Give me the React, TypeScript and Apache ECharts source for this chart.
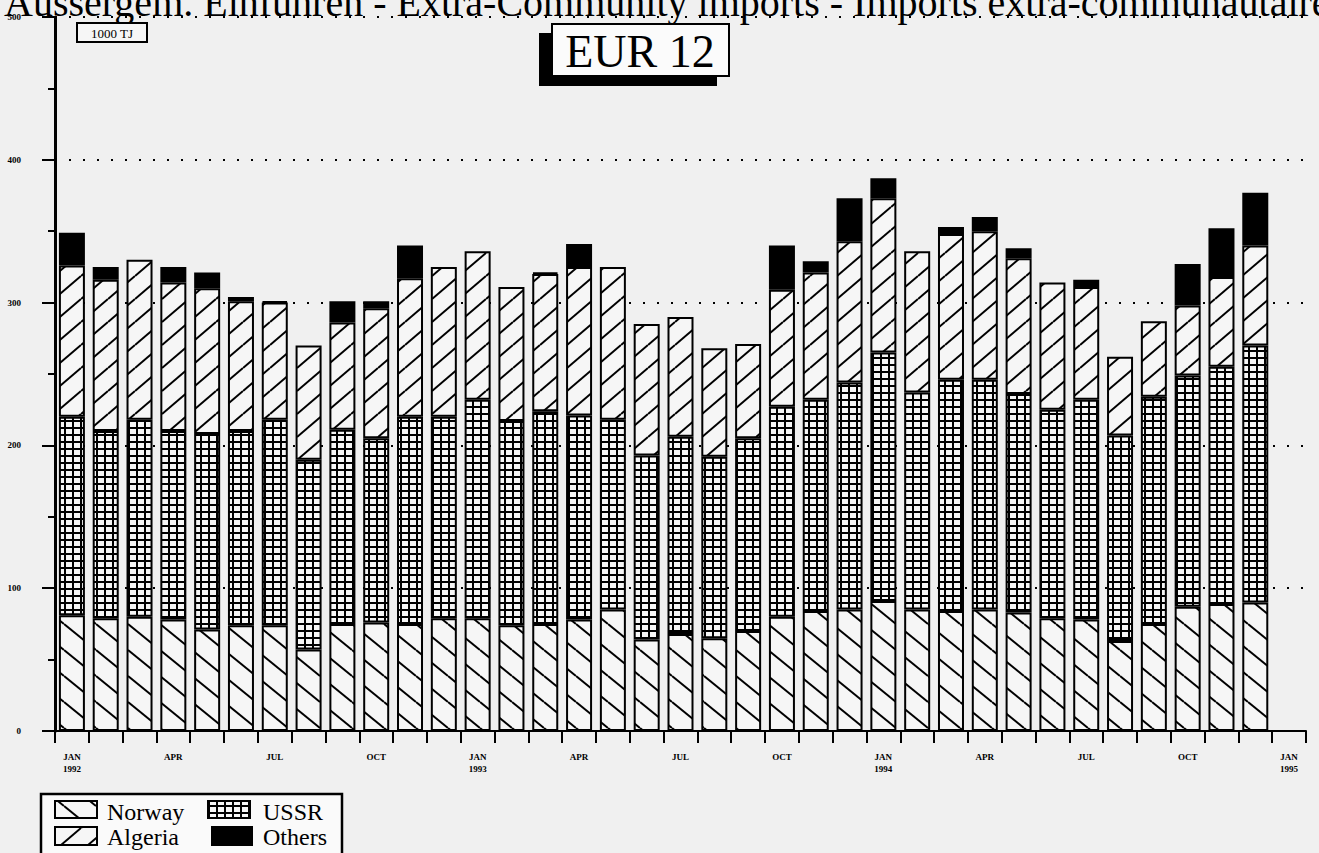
import React, { useEffect, useRef } from 'react';
import * as echarts from 'echarts';

const categories: string[] = [
  'JAN\n1992', 'FEB', 'MAR', 'APR', 'MAY', 'JUN', 'JUL', 'AUG', 'SEP', 'OCT', 'NOV', 'DEC',
  'JAN\n1993', 'FEB', 'MAR', 'APR', 'MAY', 'JUN', 'JUL', 'AUG', 'SEP', 'OCT', 'NOV', 'DEC',
  'JAN\n1994', 'FEB', 'MAR', 'APR', 'MAY', 'JUN', 'JUL', 'AUG', 'SEP', 'OCT', 'NOV', 'DEC',
  'JAN\n1995',
];

const norway: number[] = [
  81, 79, 80, 78, 71, 74, 74, 57, 75, 76, 75, 79,
  79, 74, 75, 78, 85, 64, 68, 65, 70, 80, 84, 85,
  91, 85, 84, 85, 83, 79, 78, 63, 75, 87, 89, 90,
];
const ussr: number[] = [
  139, 131, 138, 132, 137, 136, 144, 133, 136, 129, 145, 141,
  153, 143, 149, 143, 133, 129, 138, 127, 135, 147, 148, 159,
  174, 152, 162, 161, 153, 146, 154, 144, 159, 162, 166, 180,
];
const algeria: number[] = [
  106, 106, 112, 104, 102, 91, 82, 80, 75, 91, 97, 105,
  104, 94, 96, 104, 107, 92, 84, 76, 66, 82, 89, 99,
  108, 99, 102, 104, 95, 89, 79, 55, 53, 49, 63, 70,
];
const others: number[] = [
  23, 9, 0, 11, 11, 3, 1, 0, 15, 5, 23, 0,
  0, 0, 1, 16, 0, 0, 0, 0, 0, 31, 8, 30,
  14, 0, 5, 10, 7, 0, 5, 0, 0, 29, 34, 37,
];

const yTicks = [0, 100, 200, 300, 400, 500];

const HATCH_BG = '#f6f6f6';

function tile(kind: string): any {
  const c = document.createElement('canvas');
  let w = 8, h = 7;
  if (kind === 'norway') { w = 32; h = 26; }
  if (kind === 'algeria') { w = 27; h = 23; }
  c.width = w; c.height = h;
  const ctx = c.getContext('2d')!;
  ctx.fillStyle = HATCH_BG;
  ctx.fillRect(0, 0, w, h);
  ctx.strokeStyle = '#000';
  ctx.fillStyle = '#000';
  ctx.lineWidth = 2;
  if (kind === 'norway') {
    for (let n = -1; n <= 1; n++) {
      ctx.beginPath();
      ctx.moveTo(0, n * h);
      ctx.lineTo(w, h + n * h);
      ctx.stroke();
    }
  } else if (kind === 'algeria') {
    for (let n = -1; n <= 1; n++) {
      ctx.beginPath();
      ctx.moveTo(0, h + n * h);
      ctx.lineTo(w, n * h);
      ctx.stroke();
    }
  } else {
    ctx.fillRect(0, 0, 2, h);
    ctx.fillRect(0, 0, w, 2);
  }
  return { image: c, repeat: 'repeat' };
}

export default function App() {
  const ref = useRef<HTMLDivElement>(null);
  useEffect(() => {
    if (!ref.current) return;
    const chart = echarts.init(ref.current, undefined, { renderer: 'svg' });
    const pNorway = tile('norway');
    const pAlgeria = tile('algeria');
    const pUssr = tile('ussr');
    const nz = (arr: number[]) => arr.map((v) => (v === 0 ? null : v));
    const serif = "'Liberation Serif', 'DejaVu Serif', serif";
    const barBase = {
      type: 'bar',
      stack: 'total',
      barWidth: 26,
      itemStyle: { borderColor: '#000', borderWidth: 2 },
    };
    const legendItems = [
      { x: 55, y: 801, w: 42, h: 17, fill: pNorway, label: 'Norway', tx: 107, ty: 812 },
      { x: 208, y: 801, w: 42, h: 17, fill: pUssr, label: 'USSR', tx: 263, ty: 812 },
      { x: 55, y: 827, w: 42, h: 18, fill: pAlgeria, label: 'Algeria', tx: 107, ty: 837 },
      { x: 212, y: 827, w: 40, h: 18, fill: '#000', label: 'Others', tx: 263, ty: 837 },
    ];
    const graphics: any[] = [
      {
        type: 'text', x: 4, y: 2, z: 10,
        style: {
          text: 'Aussergem. Einfuhren - Extra-Community imports - Imports extra-communautaires',
          font: `40px ${serif}`, fill: '#000', verticalAlign: 'middle', textVerticalAlign: 'middle',
        },
      },
      {
        type: 'rect', z: 10, shape: { x: 77, y: 23, width: 70, height: 19 },
        style: { fill: '#f6f6f6', stroke: '#000', lineWidth: 2 },
      },
      {
        type: 'text', z: 11, x: 112, y: 33,
        style: { text: '1000 TJ', font: `13px ${serif}`, fill: '#000', align: 'center', textAlign: 'center', verticalAlign: 'middle', textVerticalAlign: 'middle' },
      },
      {
        type: 'rect', z: 10, shape: { x: 539, y: 33, width: 178, height: 53 },
        style: { fill: '#000' },
      },
      {
        type: 'rect', z: 11, shape: { x: 552, y: 24, width: 177, height: 52 },
        style: { fill: '#fbfbfb', stroke: '#000', lineWidth: 2 },
      },
      {
        type: 'text', z: 12, x: 640, y: 51,
        style: { text: 'EUR 12', font: `46px ${serif}`, fill: '#000', align: 'center', textAlign: 'center', verticalAlign: 'middle', textVerticalAlign: 'middle' },
      },
      {
        type: 'rect', z: 10, shape: { x: 41, y: 794, width: 301, height: 80 },
        style: { fill: '#fafafa', stroke: '#000', lineWidth: 2.5 },
      },
    ];
    legendItems.forEach((it) => {
      graphics.push({
        type: 'rect', z: 11, shape: { x: it.x, y: it.y, width: it.w, height: it.h },
        style: { fill: it.fill, stroke: '#000', lineWidth: 2 },
      });
      graphics.push({
        type: 'text', z: 11, x: it.tx, y: it.ty,
        style: { text: it.label, font: `24px ${serif}`, fill: '#000', verticalAlign: 'middle', textVerticalAlign: 'middle' },
      });
    });

    chart.setOption({
      animation: false,
      backgroundColor: '#f0f0f0',
      grid: { left: 55, right: 13, top: 17, bottom: 122, containLabel: false },
      xAxis: {
        type: 'category',
        data: categories,
        boundaryGap: true,
        axisLine: { show: true, lineStyle: { color: '#000', width: 2 } },
        axisTick: { show: true, length: 12, interval: 0, lineStyle: { color: '#000', width: 2 } },
        axisLabel: {
          interval: 2, margin: 20, fontSize: 9, fontWeight: 'bold', lineHeight: 12,
          fontFamily: serif, color: '#000',
        },
        splitLine: { show: false },
      },
      yAxis: {
        type: 'value',
        min: yTicks[0],
        max: yTicks[yTicks.length - 1],
        interval: 100,
        axisLine: { show: true, lineStyle: { color: '#000', width: 3 } },
        axisTick: { show: true, length: 13, lineStyle: { color: '#000', width: 2 } },
        minorTick: { show: true, splitNumber: 2, length: 7, lineStyle: { color: '#000', width: 2 } },
        axisLabel: { margin: 34, fontSize: 9, fontFamily: serif, color: '#000', fontWeight: 'bold' },
        splitLine: { show: true, lineStyle: { color: '#000', width: 2, type: [2, 12] } },
      },
      legend: { show: false },
      series: [
        { ...barBase, name: 'Norway', data: norway, itemStyle: { ...barBase.itemStyle, color: pNorway } },
        { ...barBase, name: 'USSR', data: ussr, itemStyle: { ...barBase.itemStyle, color: pUssr } },
        { ...barBase, name: 'Algeria', data: algeria, itemStyle: { ...barBase.itemStyle, color: pAlgeria } },
        { ...barBase, name: 'Others', data: nz(others), itemStyle: { ...barBase.itemStyle, color: '#000' } },
      ],
      graphic: graphics,
    });
    return () => chart.dispose();
  }, []);
  return (
    <div
      ref={ref}
      style={{ position: 'absolute', left: 0, top: 0, width: 1319, height: 853 }}
    />
  );
}
